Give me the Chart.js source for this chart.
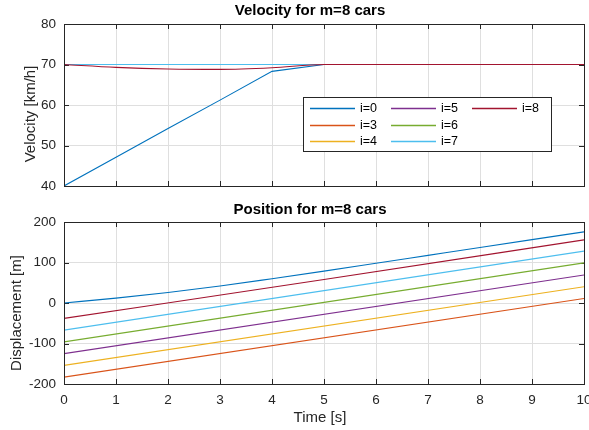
<!DOCTYPE html>
<html>
<head>
<meta charset="utf-8">
<script src="https://cdn.jsdelivr.net/npm/chart.js@4.4.1/dist/chart.umd.min.js"></script>
<style>
  body { margin: 0; background: #fff; }
  #wrap { position: relative; width: 589px; height: 430px; overflow: hidden; background: #fff; }
  canvas { position: absolute; left: 0; }
</style>
</head>
<body>
<div id="wrap">
  <canvas id="velChart" width="589" height="200" style="top:0px"></canvas>
  <canvas id="posChart" width="589" height="230" style="top:200px"></canvas>
</div>
<script>
// series names and colours (MATLAB default order)
const seriesLabels = ['i=0', 'i=3', 'i=4', 'i=5', 'i=6', 'i=7', 'i=8'];
const seriesColors = ['#0072BD', '#D95319', '#EDB120', '#7E2F8E', '#77AC30', '#4DBEEE', '#A2142F'];

// velocity [km/h] vs time [s]
const velTime0 = [0, 1, 2, 3, 4, 5, 10];
const vel0 = [40, 47.1, 54.2, 61.2, 68.3, 70, 70];
const velTimeFlat = [0, 10];
const velFlat = [70, 70]; // i=3..7 stay at 70
const velTime8 = [0, 1, 2, 3, 4, 5, 10];
const vel8 = [70, 69.3, 68.9, 68.8, 69.2, 70, 70];

// displacement [m] vs time [s]
const posTime0 = [0, 1, 2, 3, 4, 5, 6, 7, 8, 9, 10];
const pos0 = [0, 12, 26, 42, 60, 78.6, 98, 117.5, 137, 156.4, 175.7];
const posTimeLin = [0, 10];
const pos3 = [-183, 11];
const pos4 = [-154, 40];
const pos5 = [-125, 69];
const pos6 = [-96, 99];
const pos7 = [-67, 128];
const posTime8 = [0, 5, 10];
const pos8 = [-38, 58, 156];

const xTicks = [0, 10, 1];       // min, max, step
const velTicks = [40, 80, 10];
const posTicks = [-200, 200, 100];

const axisColor = '#262626';
const gridColor = '#dfdfdf';
const fontFamily = "Arial, 'Liberation Sans', Helvetica, sans-serif";

Chart.defaults.font.family = fontFamily;
Chart.defaults.color = axisColor;

function pts(t, v) {
  return t.map((x, k) => ({ x: x, y: v[k] }));
}

function makeDatasets(pairs, smooth) {
  return pairs.map((p, idx) => ({
    label: seriesLabels[idx],
    data: pts(p[0], p[1]),
    borderColor: seriesColors[idx],
    backgroundColor: seriesColors[idx],
    borderWidth: 1.1,
    pointRadius: 0,
    fill: false,
    cubicInterpolationMode: smooth[idx] ? 'monotone' : 'default',
    tension: 0,
    order: pairs.length - idx // later series on top, like MATLAB
  }));
}

// MATLAB style box, inward ticks, titles and legend
const matlabLook = {
  id: 'matlabLook',
  beforeDatasetsDraw(chart) {
    const { ctx, chartArea: a, scales } = chart;
    ctx.save();
    ctx.strokeStyle = axisColor;
    ctx.lineWidth = 1;
    ctx.beginPath();
    scales.x.ticks.forEach(t => {
      const px = Math.round(scales.x.getPixelForValue(t.value)) + 0.5;
      ctx.moveTo(px, a.top); ctx.lineTo(px, a.top + 5);
      ctx.moveTo(px, a.bottom); ctx.lineTo(px, a.bottom - 5);
    });
    scales.y.ticks.forEach(t => {
      const py = Math.round(scales.y.getPixelForValue(t.value)) + 0.5;
      ctx.moveTo(a.left, py); ctx.lineTo(a.left + 5, py);
      ctx.moveTo(a.right, py); ctx.lineTo(a.right - 5, py);
    });
    ctx.stroke();
    ctx.restore();
  },
  afterDatasetsDraw(chart, args, opts) {
    const { ctx, chartArea: a } = chart;
    ctx.save();
    ctx.strokeStyle = axisColor;
    ctx.lineWidth = 1;
    ctx.strokeRect(Math.round(a.left) + 0.5, Math.round(a.top) + 0.5,
      Math.round(a.right - a.left), Math.round(a.bottom - a.top));

    // title
    ctx.fillStyle = '#000';
    ctx.font = 'bold 15px ' + fontFamily;
    ctx.textAlign = 'center';
    ctx.textBaseline = 'middle';
    ctx.fillText(opts.title.text, opts.title.x, opts.title.y);

    // axis labels
    ctx.fillStyle = axisColor;
    ctx.font = '15px ' + fontFamily;
    if (opts.xLabel) ctx.fillText(opts.xLabel.text, opts.xLabel.x, opts.xLabel.y);
    ctx.save();
    ctx.translate(opts.yLabel.x, opts.yLabel.y);
    ctx.rotate(-Math.PI / 2);
    ctx.fillText(opts.yLabel.text, 0, 0);
    ctx.restore();

    // legend, 3 columns filled top to bottom
    if (opts.legend) {
      const L = opts.legend;
      ctx.fillStyle = '#fff';
      ctx.fillRect(L.x, L.y, L.w, L.h);
      ctx.strokeStyle = axisColor;
      ctx.strokeRect(L.x + 0.5, L.y + 0.5, L.w, L.h);
      ctx.font = '12.5px ' + fontFamily;
      ctx.textAlign = 'left';
      ctx.textBaseline = 'middle';
      chart.data.datasets.forEach((ds, k) => {
        const col = Math.floor(k / 3), row = k % 3;
        const lx = L.x + 7 + col * 81;
        const ly = Math.round(L.y + 11 + row * 16.5);
        ctx.strokeStyle = ds.borderColor;
        ctx.lineWidth = 1.3;
        ctx.beginPath();
        ctx.moveTo(lx, ly + 0.5);
        ctx.lineTo(lx + 45, ly + 0.5);
        ctx.stroke();
        ctx.fillStyle = '#000';
        ctx.fillText(ds.label, lx + 50, ly + 1);
      });
    }
    ctx.restore();
  }
};

function fixedWidth(w) {
  return scale => { scale.width = w; scale.paddingTop = 0; scale.paddingBottom = 0; };
}
function fixedHeight(h) {
  return scale => { scale.height = h; scale.paddingLeft = 0; scale.paddingRight = 0; };
}

function baseOptions(yTicks, showX, padding, xHeight, plugOpts) {
  return {
    responsive: false,
    animation: false,
    layout: { padding: padding },
    plugins: { legend: { display: false }, tooltip: { enabled: false }, matlabLook: plugOpts },
    scales: {
      x: {
        type: 'linear',
        min: xTicks[0], max: xTicks[1],
        afterFit: fixedHeight(xHeight),
        grid: { color: gridColor, drawTicks: false, lineWidth: 1 },
        border: { display: false },
        ticks: { display: showX, stepSize: xTicks[2], padding: 8, color: axisColor, font: { size: 13.5 } }
      },
      y: {
        min: yTicks[0], max: yTicks[1],
        afterFit: fixedWidth(64),
        grid: { color: gridColor, drawTicks: false, lineWidth: 1 },
        border: { display: false },
        ticks: { stepSize: yTicks[2], padding: 8, color: axisColor, font: { size: 13.5 } }
      }
    }
  };
}

new Chart(document.getElementById('velChart'), {
  type: 'line',
  data: {
    datasets: makeDatasets([
      [velTime0, vel0], [velTimeFlat, velFlat], [velTimeFlat, velFlat], [velTimeFlat, velFlat],
      [velTimeFlat, velFlat], [velTimeFlat, velFlat], [velTime8, vel8]
    ], [false, false, false, false, false, false, true])
  },
  options: baseOptions(velTicks, false, { top: 24, right: 5, bottom: 14, left: 0 }, 0, {
    title: { text: 'Velocity for m=8 cars', x: 310, y: 11 },
    yLabel: { text: 'Velocity [km/h]', x: 30.5, y: 114 },
    legend: { x: 303, y: 97, w: 248, h: 54 }
  }),
  plugins: [matlabLook]
});

new Chart(document.getElementById('posChart'), {
  type: 'line',
  data: {
    datasets: makeDatasets([
      [posTime0, pos0], [posTimeLin, pos3], [posTimeLin, pos4], [posTimeLin, pos5],
      [posTimeLin, pos6], [posTimeLin, pos7], [posTime8, pos8]
    ], [true, false, false, false, false, false, true])
  },
  options: baseOptions(posTicks, true, { top: 22, right: 5, bottom: 0, left: 0 }, 46, {
    title: { text: 'Position for m=8 cars', x: 310, y: 10 },
    yLabel: { text: 'Displacement [m]', x: 17, y: 113 },
    xLabel: { text: 'Time [s]', x: 320, y: 218 }
  }),
  plugins: [matlabLook]
});
</script>
</body>
</html>
